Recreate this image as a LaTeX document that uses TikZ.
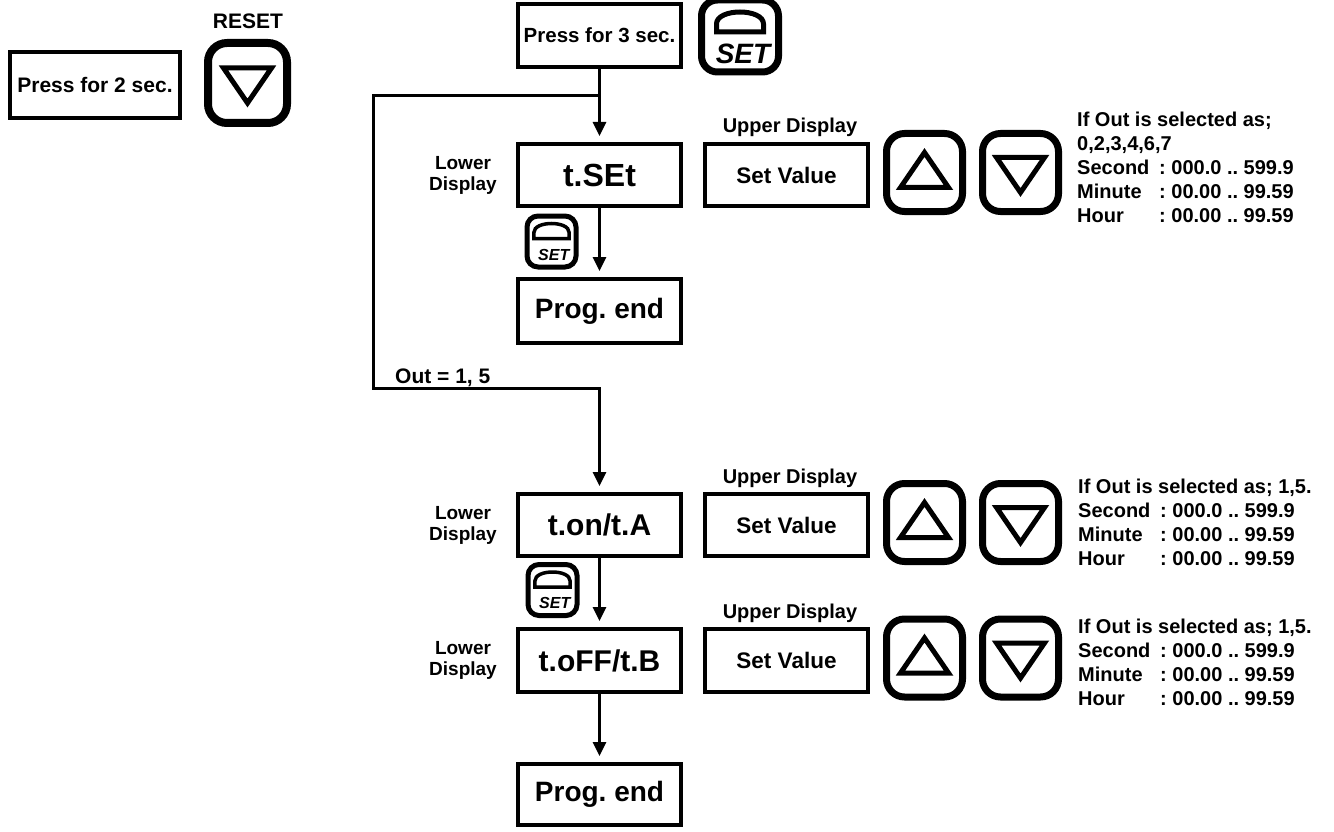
\documentclass[tikz,border=0pt]{standalone}
\usepackage{fontspec}
\setmainfont{Liberation Sans}
\usetikzlibrary{arrows.meta,calc}
\newcommand\fs[2]{\fontsize{#1}{#2}\selectfont\bfseries\frenchspacing}
\newcommand\trow[2]{\makebox[82pt][l]{#1}#2}
\newcommand\myup[1]{\draw[tri] ($(#1)+(0,-20)$) -- ($(#1)+(24,15)$) -- ($(#1)+(-24,15)$) -- cycle;}
\newcommand\mydn[1]{\draw[tri] ($(#1)+(0,20)$) -- ($(#1)+(24,-15)$) -- ($(#1)+(-24,-15)$) -- cycle;}
\newcommand\setglyph[4]{%
  \begin{scope}[shift={(#1.center)}, scale=#2]
    \draw[line width=#4] (-23.5,-4) -- (-23.5,-12) .. controls (-23.5,-28) and (23.5,-28) .. (23.5,-12) -- (23.5,-4) -- cycle;
    \node[font=\fontsize{#3}{#3}\selectfont\bfseries\itshape] (#1-t) at (3,17.5) {SET};
  \end{scope}}
\tikzset{
  every node/.style={inner sep=0pt, font=\bfseries\frenchspacing},
  box/.style={draw, line width=4pt, inner sep=0pt, minimum width=163pt},
  btn/.style={draw, line width=7pt, rounded corners=18pt, minimum width=76pt, minimum height=78pt, inner sep=0pt},
  smallbtn/.style={draw, line width=5pt, rounded corners=11pt, minimum width=49pt, minimum height=51pt, inner sep=0pt},
  tri/.style={line width=5pt, line join=miter},
  conn/.style={line width=3pt},
  arr/.style={conn, -{Triangle[width=13pt,length=14pt]}, shorten >=6pt},
  big/.style={font=\fs{30}{30}},
  lower/.style={align=center, font=\fs{19}{21}},
  upper/.style={anchor=base, font=\fs{20}{20}},
  info/.style={anchor=base west, font=\fs{20}{24}}
}
\begin{document}
\begin{tikzpicture}[x=1pt,y=-1pt]
\useasboundingbox (0,0) rectangle (1334,832);

% reset part
\node[box, minimum width=170pt, minimum height=66pt, font=\fs{21}{21}] (p2) at (95,85) {Press for 2 sec.};
\node[font=\fs{21}{21}] (rst) at (248,21) {RESET};
\node[btn, line width=8pt, minimum width=79pt, minimum height=80pt, rounded corners=19pt] (rb) at (247.5,83) {};
\mydn{rb}

% top
\node[box, minimum height=63pt, font=\fs{20.5}{20.5}] (p3) at (599.5,35.5) {Press for 3 sec.};
\node[btn, minimum width=77pt, minimum height=72pt, rounded corners=16pt] (sb) at (740,36) {};
\setglyph{sb}{1}{28}{5pt}

% row 1
\node[box, minimum height=62pt, font=\fs{32}{32}] (tset) at (599.5,175) {t.SEt};
\node[lower] (ld1) at (463,175) {Lower\\Display};
\node[box, minimum height=62pt, font=\fs{22.5}{22.5}] (sv1) at (786.5,175) {Set Value};
\node[upper] (ud1) at (790,133) {Upper Display};
\node[btn] (u1) at (924.5,172.5) {};
\myup{u1}
\node[btn] (d1) at (1020.5,172.5) {};
\mydn{d1}
\node[info] (i1) at (1077,127) {\begin{tabular}[t]{@{}l@{}}If Out is selected as;\\0,2,3,4,6,7\\\trow{Second}{: 000.0 .. 599.9}\\\trow{Minute}{: 00.00 .. 99.59}\\\trow{Hour}{: 00.00 .. 99.59}\end{tabular}};

\node[smallbtn] (s1) at (551.5,241.5) {};
\setglyph{s1}{0.75}{16}{3.5pt}
\node[box, minimum height=64pt, font=\fs{28}{28}] (pe1) at (599.5,311) {Prog. end};

% row 2
\node[box, minimum height=62pt, big] (ton) at (599.5,525) {t.on/t.A};
\node[lower] (ld2) at (463,525) {Lower\\Display};
\node[box, minimum height=62pt, font=\fs{22.5}{22.5}] (sv2) at (786.5,525) {Set Value};
\node[upper] (ud2) at (790,483) {Upper Display};
\node[btn] (u2) at (924.5,522.5) {};
\myup{u2}
\node[btn] (d2) at (1020.5,522.5) {};
\mydn{d2}
\node[info] (i2) at (1078,493) {\begin{tabular}[t]{@{}l@{}}If Out is selected as; 1,5.\\\trow{Second}{: 000.0 .. 599.9}\\\trow{Minute}{: 00.00 .. 99.59}\\\trow{Hour}{: 00.00 .. 99.59}\end{tabular}};

\node[smallbtn] (s2) at (552.5,590) {};
\setglyph{s2}{0.75}{16}{3.5pt}

% row 3
\node[box, minimum height=63pt, big] (toff) at (599.5,660.5) {t.oFF/t.B};
\node[lower] (ld3) at (463,660.5) {Lower\\Display};
\node[box, minimum height=63pt, font=\fs{22.5}{22.5}] (sv3) at (786.5,660.5) {Set Value};
\node[upper] (ud3) at (790,618) {Upper Display};
\node[btn] (u3) at (924.5,658) {};
\myup{u3}
\node[btn] (d3) at (1020.5,658) {};
\mydn{d3}
\node[info] (i3) at (1078,633) {\begin{tabular}[t]{@{}l@{}}If Out is selected as; 1,5.\\\trow{Second}{: 000.0 .. 599.9}\\\trow{Minute}{: 00.00 .. 99.59}\\\trow{Hour}{: 00.00 .. 99.59}\end{tabular}};

\node[box, minimum height=61pt, font=\fs{28}{28}] (pe2) at (599.5,794.5) {Prog. end};

% connectors
\coordinate (j) at (599.5,96);
\coordinate (lt) at (373,96);
\coordinate (lb) at (373,388);
\draw[conn] (p3.south) -- (j);
\draw[arr] (j) -- (tset.north);
\draw[arr] (j) -- (lt) -- (lb) -| (ton.north);
\node[anchor=base west, font=\fs{21}{21}] (out) at (395,383) {Out = 1, 5};
\draw[arr] (tset.south) -- (pe1.north);
\draw[arr] (ton.south) -- (toff.north);
\draw[arr] (toff.south) -- (pe2.north);
\end{tikzpicture}
\end{document}
